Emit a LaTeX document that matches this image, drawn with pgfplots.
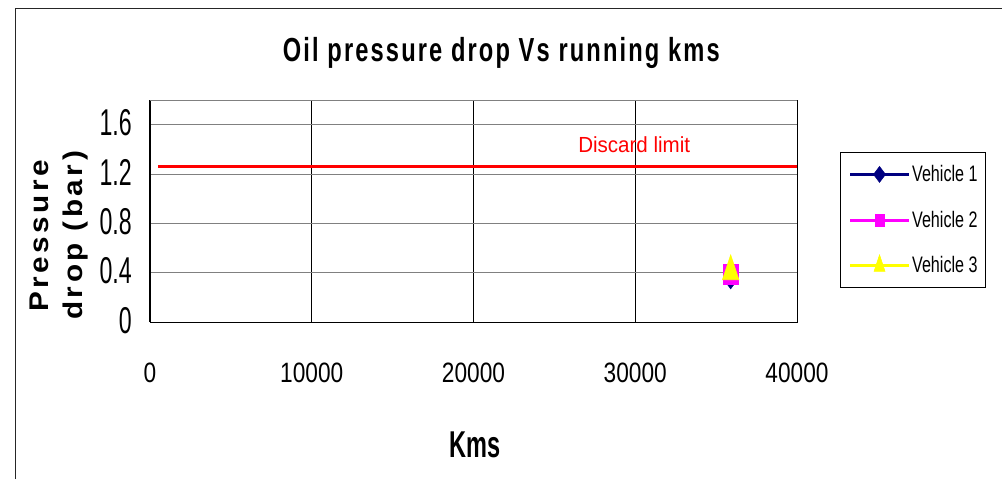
\documentclass[border=0pt]{standalone}
\usepackage{pgfplots}
\pgfplotsset{compat=1.18}
\usepackage{fontspec}
\setmainfont{Liberation Sans}
\newfontfamily\ylabfont[LetterSpace=12]{Liberation Sans}
\newfontfamily\titlefont[LetterSpace=9]{Liberation Sans}
\definecolor{vnavy}{RGB}{0,0,128}
\definecolor{vmag}{RGB}{255,0,255}
\definecolor{vyel}{RGB}{255,255,0}
\definecolor{gridgray}{RGB}{128,128,128}
\newcommand{\xtl}[1]{\scalebox{0.81}[1]{#1}}
\newcommand{\ytl}[1]{\scalebox{0.62}[1]{#1}}
\newcommand{\leg}[1]{\scalebox{0.72}[1]{#1}}
\begin{document}
\begin{tikzpicture}
\useasboundingbox (0,0) rectangle (751.5pt,359.25pt);
\draw[line width=0.75pt, black!85] (11.25pt,0) -- (11.25pt,353pt) -- (751.5pt,353pt);
\begin{axis}[
  at={(112.5pt,117.75pt)}, anchor=south west,
  scale only axis, width=485.25pt, height=166.5pt,
  xmin=0, xmax=40000, ymin=0, ymax=1.8,
  scaled x ticks=false, scaled y ticks=false,
  xtick={0,10000,20000,30000,40000},
  xticklabels={\xtl{0},\xtl{10000},\xtl{20000},\xtl{30000},\xtl{40000}},
  ytick={0,0.4,0.8,1.2,1.6},
  yticklabels={\ytl{0},\ytl{0.4},\ytl{0.8},\ytl{1.2},\ytl{1.6}},
  xticklabel style={font=\fontsize{21}{21}\selectfont, anchor=center, inner sep=0pt, yshift=-38.25pt},
  yticklabel style={font=\fontsize{28}{28}\selectfont, anchor=east, inner sep=0pt, xshift=-13.5pt, yshift=1.2pt},
  major tick length=0pt,
  axis line style={draw=none},
  xmajorgrids, ymajorgrids,
  x grid style={black, line width=0.75pt},
  y grid style={gridgray, line width=0.75pt},
  clip=false,
  legend style={at={(1.0665,0.7658)}, anchor=north west, draw=black, line width=0.75pt, fill=white,
    inner xsep=6pt, inner ysep=7.6pt, row sep=16.6pt, font=\fontsize{16.8}{18}\selectfont,
    nodes={inner ysep=2pt, inner xsep=0pt}, /tikz/every odd column/.append style={column sep=1.2pt}},
  legend cell align=left,
  legend image code/.code={\draw[mark repeat=2,mark phase=2,#1] plot coordinates {(0pt,0pt) (22.125pt,0pt) (44.25pt,0pt)};},
]
\addplot[red, line width=2pt, forget plot] coordinates {(500,1.26) (40000,1.26)};
\addplot[vnavy, line width=2.25pt, mark=diamond*, mark size=7.5pt, mark options={solid, fill=vnavy, draw=vnavy, line width=0.4pt}, legend image post style={mark size=6pt}] coordinates {(35900,0.35)};
\addlegendentry{\leg{Vehicle 1}}
\addplot[vmag, line width=2.25pt, mark=square*, mark size=5.85pt, mark options={solid, fill=vmag, draw=vmag, line width=0.4pt, yscale=1.28}, legend image post style={mark size=3.4pt}] coordinates {(35900,0.39)};
\addlegendentry{\leg{Vehicle 2}}
\addplot[vyel, line width=2.25pt, mark=triangle*, mark size=7.2pt, mark options={solid, fill=vyel, draw=vyel, line width=0.4pt, yscale=1.73}, legend image post style={mark size=4.75pt}] coordinates {(35900,0.41)};
\addlegendentry{\leg{Vehicle 3}}
\draw[black, line width=1.5pt] (rel axis cs:0,0) -- (rel axis cs:0,1);
\draw[black, line width=0.75pt] (rel axis cs:0,0) -- (rel axis cs:1,0) -- (rel axis cs:1,1);
\draw[gridgray, line width=0.75pt] (rel axis cs:0,1) -- (rel axis cs:1,1);
\node[anchor=base west, text=red, font=\fontsize{16.4}{18}\selectfont, inner sep=0pt] at (axis cs:26460,1.374) {\scalebox{0.94}[1]{Discard limit}};
\end{axis}
\node[anchor=base, font=\titlefont\fontsize{25}{28}\selectfont\bfseries, inner sep=0pt] at (376pt,312.75pt) {\scalebox{0.71}[1]{Oil pressure drop Vs running kms}};
\node[anchor=base, font=\fontsize{28}{30}\selectfont\bfseries, inner sep=0pt] at (356.5pt,16.5pt) {\scalebox{0.63}[1]{Kms}};
\node[rotate=90, anchor=base west, inner sep=0pt, font=\ylabfont\fontsize{20.25}{22}\selectfont\bfseries] at (36pt,125.25pt) {\scalebox{1.1}[1]{Pressure}};
\node[rotate=90, anchor=base west, inner sep=0pt, font=\ylabfont\fontsize{20.25}{22}\selectfont\bfseries] at (62pt,119.25pt) {\scalebox{1.1}[1]{drop (bar)}};
\end{tikzpicture}
\end{document}
